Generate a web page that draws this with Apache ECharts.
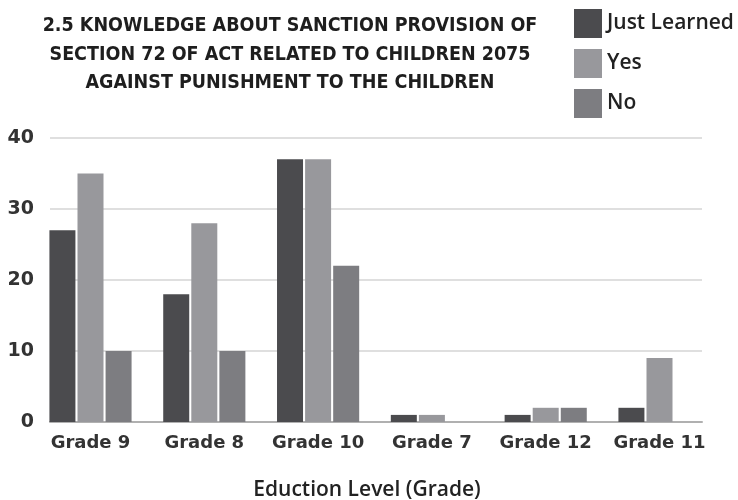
<!DOCTYPE html>
<html><head><meta charset="utf-8">
<script src="https://cdn.jsdelivr.net/npm/echarts@6/dist/echarts.min.js"></script>
<style>html,body{margin:0;padding:0;background:#fff}#c{width:738px;height:500px}</style>
</head><body><div id="c"></div>
<script>
const categories = ['Grade 9','Grade 8','Grade 10','Grade 7','Grade 12','Grade 11'];
const justLearned = [27, 18, 37, 1, 1, 2];
const yes = [35, 28, 37, 1, 2, 9];
const no = [10, 10, 22, 0, 2, 0];
const titleText = '2.5 KNOWLEDGE ABOUT SANCTION PROVISION OF\nSECTION 72 OF ACT RELATED TO CHILDREN 2075\nAGAINST PUNISHMENT TO THE CHILDREN';
const xName = 'Eduction Level (Grade)';

const chart = echarts.init(document.getElementById('c'));
const colors = ['#4b4b4e', '#98989c', '#7d7d81'];
chart.setOption({
  animation: false,
  color: colors,
  title: {
    text: titleText, left: 285, top: 7, textAlign: 'center',
    textStyle: { fontFamily: 'DejaVu Sans Condensed, sans-serif', fontWeight: 'bold', fontSize: 19.5, lineHeight: 28.5, color: '#1e1e1e' }
  },
  legend: {
    orient: 'vertical', left: 569, top: 4, itemWidth: 28, itemHeight: 29, itemGap: 11,
    icon: 'rect',
    textStyle: { fontFamily: 'Open Sans, sans-serif', fontSize: 21, fontWeight: 600, color: '#222', padding: [0,0,0,0] },
    data: ['Just Learned', 'Yes', 'No']
  },
  grid: [
    { left: 50, right: 36, top: 138, bottom: 78, containLabel: false, outerBoundsMode: 'none' },
    { left: 33.6, right: 21.6, top: 138, bottom: 78, containLabel: false, outerBoundsMode: 'none' }
  ],
  xAxis: [
    { type: 'category', gridIndex: 0, data: categories, axisLine: { show: true, lineStyle: { color: '#b0b0b0', width: 2 } }, axisTick: { show: false }, axisLabel: { show: false } },
    { type: 'category', gridIndex: 1, data: categories, axisLine: { show: false }, axisTick: { show: false },
      axisLabel: { interval: 0, margin: 12, fontFamily: 'DejaVu Sans, sans-serif', fontWeight: 'bold', fontSize: 18, color: '#333' },
      name: xName, nameLocation: 'middle', nameGap: 58,
      nameTextStyle: { fontFamily: 'Open Sans, sans-serif', fontSize: 21, fontWeight: 600, color: '#222', padding: [0, 16, 0, 0] } }
  ],
  yAxis: [
    { type: 'value', gridIndex: 0, min: 0, max: 40, interval: 10,
      axisLine: { show: false }, axisTick: { show: false },
      splitLine: { lineStyle: { color: '#d4d4d4', width: 1.5 } },
      axisLabel: { margin: 16, fontFamily: 'DejaVu Sans, sans-serif', fontWeight: 'bold', fontSize: 19, color: '#333' } },
    { type: 'value', gridIndex: 1, min: 0, max: 40, interval: 10, show: false, splitLine: { show: false } }
  ],
  series: [
    { name: 'Just Learned', type: 'bar', xAxisIndex: 1, yAxisIndex: 1, data: justLearned, barWidth: 26, barGap: '8%' },
    { name: 'Yes', type: 'bar', xAxisIndex: 1, yAxisIndex: 1, data: yes, barWidth: 26, barGap: '8%' },
    { name: 'No', type: 'bar', xAxisIndex: 1, yAxisIndex: 1, data: no, barWidth: 26, barGap: '8%' }
  ]
});
</script></body></html>
